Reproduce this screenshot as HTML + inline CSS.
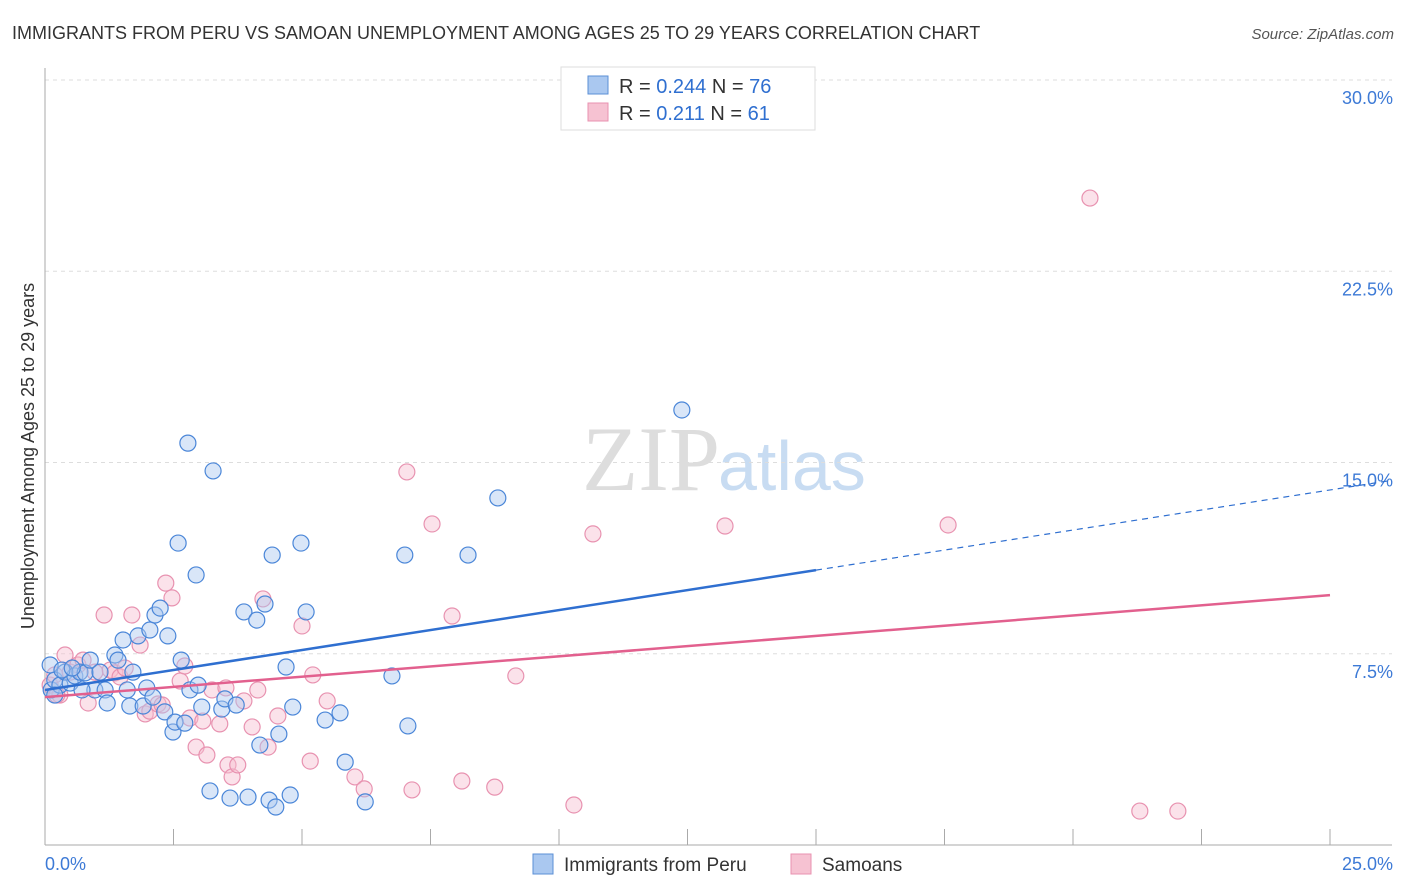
<!DOCTYPE html>
<html><head><meta charset="utf-8"><style>
body{margin:0;background:#fff;font-family:"Liberation Sans",sans-serif;}
svg{display:block}
</style></head><body>
<svg id="chart" width="1406" height="892" xmlns="http://www.w3.org/2000/svg">
<text x="12" y="39" font-size="18" fill="#333">IMMIGRANTS FROM PERU VS SAMOAN UNEMPLOYMENT AMONG AGES 25 TO 29 YEARS CORRELATION CHART</text>
<text x="1394" y="39" font-size="15" fill="#555" font-style="italic" text-anchor="end">Source: ZipAtlas.com</text>
<text x="720" y="490" font-size="92" fill="#ddd" font-family="Liberation Serif,serif" text-anchor="end">ZIP</text>
<text x="718" y="490" font-size="70" fill="#c8dcf2">atlas</text>
<g id="grid"></g><g id="axes"></g><g id="pts"></g><g id="lines"></g>
<text transform="translate(34,456) rotate(-90)" font-size="18" fill="#333" text-anchor="middle">Unemployment Among Ages 25 to 29 years</text>
<g>
<rect x="561" y="67" width="254" height="63" fill="#fff" stroke="#ddd"/>
<rect x="588" y="76" width="20" height="18" fill="#aac8f0" stroke="#5b8fd6"/>
<rect x="588" y="103" width="20" height="18" fill="#f6c2d2" stroke="#e892b0"/>
<text x="619" y="93" font-size="20" fill="#333">R = <tspan fill="#2f6fd0">0.244</tspan>   N = <tspan fill="#2f6fd0">76</tspan></text>
<text x="619" y="120" font-size="20" fill="#333">R =  <tspan fill="#2f6fd0">0.211</tspan>   N = <tspan fill="#2f6fd0">61</tspan></text>
</g>
<g>
<rect x="533" y="854" width="20" height="20" fill="#aac8f0" stroke="#5b8fd6"/>
<text x="564" y="871" font-size="19" fill="#333">Immigrants from Peru</text>
<rect x="791" y="854" width="20" height="20" fill="#f6c2d2" stroke="#e892b0"/>
<text x="822" y="871" font-size="19" fill="#333">Samoans</text>
</g>
</svg>
<script>
const xTicks=[0,2.5,5,7.5,10,12.5,15,17.5,20,22.5,25];
const yTicks=[7.5,15,22.5,30];
const yTickLabels=["7.5%","15.0%","22.5%","30.0%"];
const peruX=[0.12,0.19,0.29,0.39,0.49,0.58,0.68,0.78,0.88,0.97,1.07,1.17,1.21,1.36,1.42,1.52,1.60,1.65,1.71,1.81,1.91,1.98,2.04,2.10,2.14,2.24,2.33,2.39,2.49,2.53,2.59,2.65,2.72,2.78,2.82,2.94,2.98,3.05,3.21,3.27,3.44,3.50,3.60,3.72,3.87,3.95,4.12,4.18,4.28,4.36,4.42,4.49,4.55,4.69,4.77,4.82,4.98,5.08,5.45,5.74,5.84,6.23,6.75,7.00,7.06,8.23,8.81,12.39,0.10,0.19,0.33,0.53,0.72];
const peruY=[6.08,6.47,6.27,6.78,6.35,6.63,6.78,6.75,7.25,6.08,6.78,6.08,5.57,7.45,7.25,8.04,6.08,5.45,6.78,8.20,5.45,6.16,8.43,5.80,9.02,9.29,5.22,8.20,4.43,4.82,11.84,7.25,4.78,15.76,6.08,10.59,6.27,5.41,2.12,14.67,5.33,5.73,1.84,5.49,9.14,1.88,8.82,3.92,9.45,1.76,11.37,1.49,4.35,6.98,1.96,5.41,11.84,9.14,4.90,5.18,3.25,1.69,6.63,11.37,4.67,11.37,13.61,17.06,7.06,5.88,6.86,6.94,6.08];
const samX=[0.10,0.19,0.29,0.39,0.49,0.64,0.74,0.84,0.97,1.15,1.27,1.36,1.46,1.56,1.69,1.85,1.95,2.04,2.20,2.28,2.35,2.47,2.63,2.72,2.82,2.94,3.07,3.15,3.25,3.40,3.52,3.56,3.64,3.75,3.87,4.03,4.14,4.24,4.34,4.53,5.00,5.16,5.21,5.49,6.03,6.21,7.04,7.14,7.53,7.92,8.11,8.75,9.16,10.29,10.66,13.23,17.57,20.33,21.30,22.04,0.23];
const samY=[6.27,6.67,5.88,7.45,6.78,7.06,7.25,5.57,6.78,9.02,6.86,6.75,6.59,6.94,9.02,7.84,5.14,5.25,5.53,5.49,10.27,9.69,6.43,7.02,4.98,3.84,4.86,3.53,6.08,4.75,6.16,3.14,2.67,3.14,5.65,4.63,6.08,9.65,3.84,5.06,8.59,3.29,6.67,5.65,2.67,2.20,14.63,2.16,12.59,8.98,2.51,2.27,6.63,1.57,12.20,12.51,12.55,25.37,1.33,1.33,5.88];
const X0=45,X1=1330,Y0=845,PPY=25.5;
const xs=v=>X0+v*(X1-X0)/25, ys=v=>Y0-v*PPY;
const NS="http://www.w3.org/2000/svg";
function mk(t,a,p){const e=document.createElementNS(NS,t);for(const k in a)e.setAttribute(k,a[k]);p.appendChild(e);return e;}
const grid=document.getElementById('grid'),axes=document.getElementById('axes'),pts=document.getElementById('pts'),lines=document.getElementById('lines');
yTicks.forEach((t,i)=>{
 const g=mk('line',{x1:X0,x2:1392,y1:ys(t),y2:ys(t),stroke:'#ddd','stroke-dasharray':'4,4'},grid);
 
 
 const l=mk('text',{x:1393,y:ys(t)+24,'font-size':18,fill:'#3d7ad6','text-anchor':'end'},axes);
 l.textContent=yTickLabels[i];
 
 
});
const ya=mk('line',{x1:X0,x2:X0,y1:68,y2:Y0,stroke:'#aaa'},axes);


const xa=mk('line',{x1:X0,x2:1392,y1:Y0,y2:Y0,stroke:'#aaa'},axes);


xTicks.forEach(t=>{
 const k=mk('line',{x1:xs(t),x2:xs(t),y1:Y0,y2:Y0-16,stroke:'#aaa'},axes);
 
 
});
[["0.0%",45,'start'],["25.0%",1393,'end']].forEach(a=>{
 const l=mk('text',{x:a[1],y:870,'font-size':18,fill:'#3d7ad6','text-anchor':a[2]},axes);
 l.textContent=a[0];
 
 
});
function dots(X,Y,fill,stroke,name){
 X.forEach((x,i)=>{
  const c=mk('circle',{cx:xs(x),cy:ys(Y[i]),r:8,fill:fill,'fill-opacity':0.45,stroke:stroke,'stroke-width':1.2},pts);
  
  
 });
}
dots(samX,samY,'#f6bfd0','#e892b0','samoan-point');
dots(peruX,peruY,'#aac8f0','#4a86d8','peru-point');
const b=mk('line',{x1:xs(0),y1:ys(6.08),x2:xs(15),y2:ys(10.78),stroke:'#2f6fd0','stroke-width':2.5},lines);


const bd=mk('line',{x1:xs(15),y1:ys(10.78),x2:xs(26.2),y2:ys(14.3),stroke:'#2f6fd0','stroke-width':1.2,'stroke-dasharray':'6,5'},lines);


const p=mk('line',{x1:xs(0),y1:ys(5.8),x2:xs(25),y2:ys(9.8),stroke:'#e2608e','stroke-width':2.5},lines);


</script>
</body></html>
